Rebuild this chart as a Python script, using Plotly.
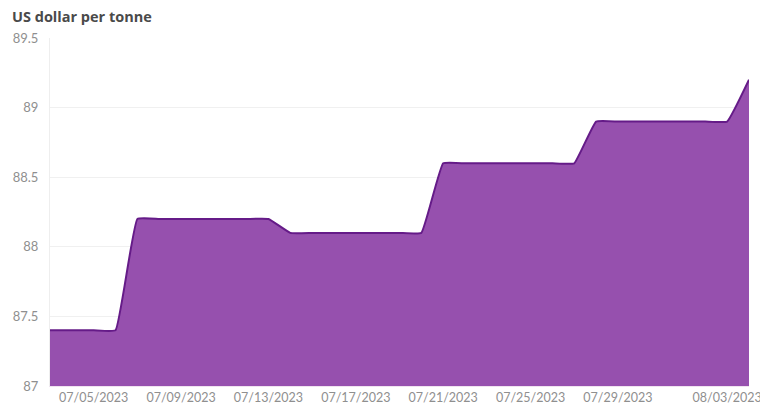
import plotly.graph_objects as go

dates = [
    "2023-07-03", "2023-07-04", "2023-07-05", "2023-07-06", "2023-07-07",
    "2023-07-08", "2023-07-09", "2023-07-10", "2023-07-11", "2023-07-12",
    "2023-07-13", "2023-07-14", "2023-07-15", "2023-07-16", "2023-07-17",
    "2023-07-18", "2023-07-19", "2023-07-20", "2023-07-21", "2023-07-22",
    "2023-07-23", "2023-07-24", "2023-07-25", "2023-07-26", "2023-07-27",
    "2023-07-28", "2023-07-29", "2023-07-30", "2023-07-31", "2023-08-01",
    "2023-08-02", "2023-08-03", "2023-08-04",
]
prices = [
    87.4, 87.4, 87.4, 87.4, 88.2,
    88.2, 88.2, 88.2, 88.2, 88.2,
    88.2, 88.1, 88.1, 88.1, 88.1,
    88.1, 88.1, 88.1, 88.6, 88.6,
    88.6, 88.6, 88.6, 88.6, 88.6,
    88.9, 88.9, 88.9, 88.9, 88.9,
    88.9, 88.9, 89.2,
]
x_ticks = ["2023-07-05", "2023-07-09", "2023-07-13", "2023-07-17",
           "2023-07-21", "2023-07-25", "2023-07-29", "2023-08-03"]
y_ticks = [87, 87.5, 88, 88.5, 89, 89.5]
y_tick_text = ["87", "87.5", "88", "88.5", "89", "89.5"]
title_text = "US dollar per tonne"

fig = go.Figure()
fig.add_trace(go.Scatter(
    x=dates, y=prices, mode="lines",
    line=dict(color="#651b88", width=2, shape="spline", smoothing=0.3),
    fill="tozeroy", fillcolor="#9650ae",
    hoverinfo="x+y",
))

# page body has an 8px margin, so the figure is sized to fit the window
fig.update_layout(
    width=760, height=399,
    margin=dict(l=42, r=19, t=30, b=21, autoexpand=False),
    paper_bgcolor="white", plot_bgcolor="white",
    showlegend=False,
    font=dict(family="Lato, Open Sans, sans-serif", color="#8f8f8f", size=13),
)
fig.add_annotation(
    text="<b>" + title_text + "</b>", xref="paper", yref="paper",
    x=-0.057, y=1.062, xanchor="left", yanchor="middle", showarrow=False,
    font=dict(size=14.5, color="#4a4a4a", family="Open Sans, sans-serif"),
)
fig.update_xaxes(
    type="date", range=["2023-07-03", "2023-08-04"],
    tickvals=x_ticks, tickformat="%m/%d/%Y", automargin=False,
    showgrid=False, showline=True, linecolor="#efe3ef", linewidth=1,
    ticks="", ticklabelstandoff=0, tickfont=dict(size=12.5, color="#8f8f8f"),
)
fig.update_yaxes(
    range=[87, 89.5], tickvals=y_ticks, ticktext=y_tick_text, automargin=False,
    showgrid=True, gridcolor="#f0f0f0", gridwidth=1,
    showline=True, linecolor="#eeeeee", linewidth=1,
    zeroline=False, ticks="", ticklabelstandoff=8,
    tickfont=dict(size=13, color="#8f8f8f"),
)

fig.write_html("out.html")
